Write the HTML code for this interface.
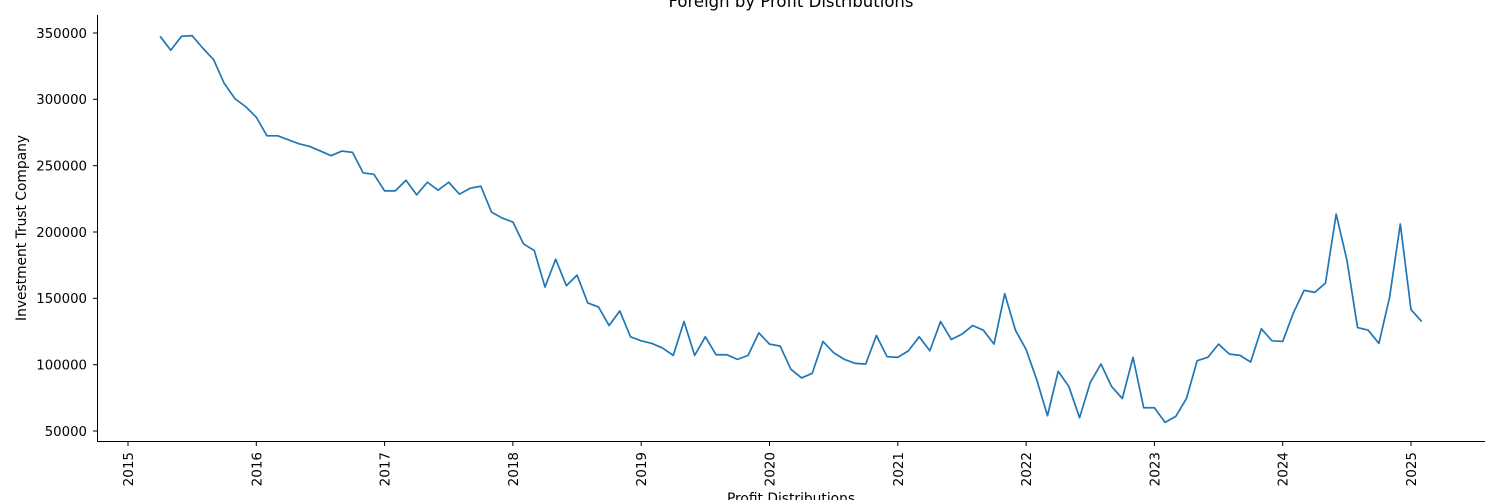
<!DOCTYPE html>
<html><head><meta charset="utf-8"><style>
body{margin:0;background:#fff;}
svg{display:block;font-family:"DejaVu Sans","Liberation Sans",sans-serif;}
</style></head><body>
<svg id="chart" width="1500" height="500"></svg>
<script>
const startYear = 2015, startMonth = 4;
const values = [347500,337000,347500,348000,338500,330000,312000,300500,294500,
286500,272500,272500,269500,266500,264500,261000,257500,261000,260000,244500,243500,
231000,231000,239000,228000,237500,231500,237500,228500,233000,234500,215000,210500,
207500,191000,186000,158500,179500,159500,167500,146500,143500,129500,140500,121000,
118000,116000,112500,107000,132500,107000,121000,107500,107500,104000,107000,124000,
115500,114000,96500,90000,93500,117500,109000,104000,101000,100500,122000,106000,
105500,110500,121000,110500,132500,119000,123000,129500,126000,115500,153500,126000,
111500,88500,61500,95000,83500,60000,86500,100500,83500,74500,105500,67500,
67500,56500,61000,74500,103000,105500,115500,108000,107000,102000,127000,118000,
117500,139000,156000,154500,161500,213500,179000,128000,126000,116000,151000,206000,
141500,132500];
const yTicks = [50000,100000,150000,200000,250000,300000,350000];
const xTicks = [2015,2016,2017,2018,2019,2020,2021,2022,2023,2024,2025];

const NS="http://www.w3.org/2000/svg";
const svg=document.getElementById('chart');
function mk(t,a,p){const e=document.createElementNS(NS,t);for(const k in a)e.setAttribute(k,a[k]);(p||svg).appendChild(e);return e;}
const xs=y=>128+(y-2015)*128.3;
const ys=v=>33+(350000-v)*(398/300000);
const ax=mk('line',{x1:97.5,y1:15,x2:97.5,y2:441.5,stroke:'#000','stroke-width':1});


const bx=mk('line',{x1:97,y1:441.5,x2:1485,y2:441.5,stroke:'#000','stroke-width':1});


yTicks.forEach(v=>{
  const y=ys(v);
  mk('line',{x1:93,y1:y,x2:97.5,y2:y,stroke:'#000'});
  const t=mk('text',{x:87,y:y+4.8,'text-anchor':'end','font-size':13.3,fill:'#000'});
  t.textContent=v;
  
  
});
xTicks.forEach(yr=>{
  const x=xs(yr);
  mk('line',{x1:x,y1:441.5,x2:x,y2:446,stroke:'#000'});
  const t=mk('text',{x:0,y:0,'text-anchor':'end','font-size':13.5,fill:'#000',transform:`translate(${x+5},452) rotate(-90)`});
  t.textContent=yr;
  
  
});
const pts=values.map((v,i)=>{const m=startMonth-1+i;return [xs(startYear+m/12),ys(v)];});
const line=mk('polyline',{points:pts.map(p=>p.join(',')).join(' '),fill:'none',stroke:'#1f77b4','stroke-width':1.7,'stroke-linejoin':'round'});


const title=mk('text',{x:791,y:7,'text-anchor':'middle','font-size':16.5});
title.textContent='Foreign by Profit Distributions';


const xl=mk('text',{x:791,y:503,'text-anchor':'middle','font-size':13.8});
xl.textContent='Profit Distributions';


const yl=mk('text',{x:0,y:0,'text-anchor':'middle','font-size':13.8,transform:'translate(26,228) rotate(-90)'});
yl.textContent='Investment Trust Company';


</script>
</body></html>
